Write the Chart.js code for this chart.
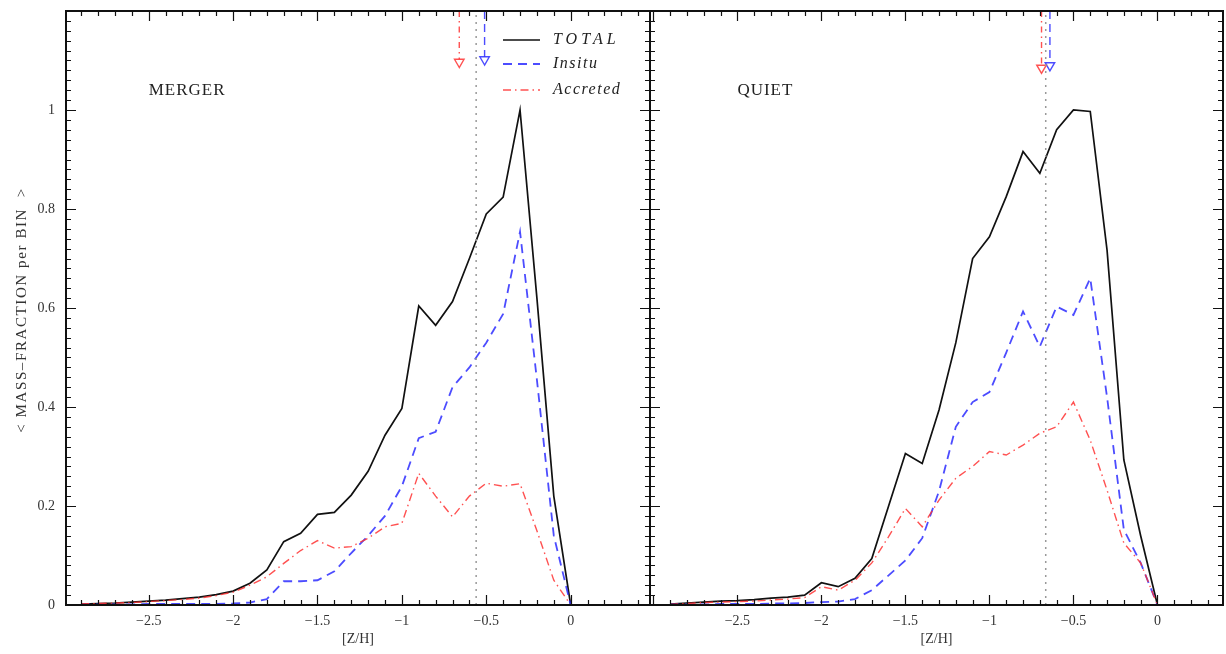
<!DOCTYPE html>
<html lang="en">
<head>
<meta charset="UTF-8">
<title>Mass fraction per bin vs [Z/H]</title>
<script src="https://cdn.jsdelivr.net/npm/chart.js"></script>
<style>
  body { margin: 0; background: #fff; }
  #wrap { position: relative; width: 1226px; height: 654px; overflow: hidden; }
  #wrap canvas { position: absolute; top: 0; }
</style>
</head>
<body>
<div id="wrap">
  <canvas id="merger" width="652" height="654" style="left:0;width:652px;height:654px"></canvas>
  <canvas id="quiet" width="586" height="654" style="left:640px;width:586px;height:654px"></canvas>
</div>

<script>
// [Z/H] bin centres
const zh = [-2.9, -2.8, -2.7, -2.6, -2.5, -2.4, -2.3, -2.2, -2.1, -2.0,
            -1.9, -1.8, -1.7, -1.6, -1.5, -1.4, -1.3, -1.2, -1.1, -1.0,
            -0.9, -0.8, -0.7, -0.6, -0.5, -0.4, -0.3, -0.2, -0.1, 0.0,
            0.1, 0.2, 0.3, 0.4];

// MERGER run
const mergerTotal = [0.002, 0.003, 0.004, 0.006, 0.008, 0.010, 0.013, 0.016, 0.021, 0.028,
                     0.044, 0.071, 0.128, 0.145, 0.183, 0.187, 0.222, 0.270, 0.343, 0.397,
                     0.604, 0.565, 0.613, 0.700, 0.790, 0.824, 1.000, 0.620, 0.220, 0,
                     0, 0, 0, 0];
const mergerInsitu = [0.001, 0.001, 0.001, 0.001, 0.002, 0.002, 0.002, 0.002, 0.002, 0.003,
                      0.005, 0.012, 0.048, 0.048, 0.050, 0.068, 0.105, 0.140, 0.180, 0.240,
                      0.337, 0.350, 0.440, 0.480, 0.530, 0.588, 0.754, 0.455, 0.140, 0,
                      0, 0, 0, 0];
const mergerAccreted = [0.002, 0.003, 0.004, 0.005, 0.007, 0.009, 0.011, 0.014, 0.019, 0.026,
                        0.040, 0.057, 0.084, 0.110, 0.130, 0.115, 0.118, 0.135, 0.158, 0.165,
                        0.266, 0.220, 0.178, 0.220, 0.246, 0.240, 0.245, 0.150, 0.050, 0,
                        0, 0, 0, 0];

// QUIET run
const quietTotal = [0.002, 0.004, 0.006, 0.008, 0.009, 0.011, 0.014, 0.016, 0.020, 0.045,
                    0.037, 0.054, 0.094, 0.200, 0.306, 0.286, 0.394, 0.530, 0.700, 0.744,
                    0.825, 0.916, 0.872, 0.960, 1.000, 0.997, 0.717, 0.293, 0.140, 0,
                    0, 0, 0, 0];
const quietInsitu = [0.001, 0.001, 0.001, 0.002, 0.002, 0.002, 0.003, 0.003, 0.004, 0.006,
                     0.007, 0.012, 0.030, 0.060, 0.090, 0.135, 0.230, 0.360, 0.410, 0.430,
                     0.510, 0.593, 0.522, 0.603, 0.586, 0.660, 0.420, 0.152, 0.085, 0,
                     0, 0, 0, 0];
const quietAccreted = [0.001, 0.003, 0.005, 0.006, 0.007, 0.008, 0.010, 0.012, 0.015, 0.037,
                       0.030, 0.050, 0.085, 0.138, 0.195, 0.158, 0.212, 0.256, 0.280, 0.310,
                       0.303, 0.323, 0.347, 0.360, 0.410, 0.333, 0.232, 0.125, 0.085, 0,
                       0, 0, 0, 0];

// median [Z/H] of total / insitu / accreted
const mergerMedians = [-0.56, -0.51, -0.66];
const quietMedians = [-0.665, -0.64, -0.69];

const xTicks = [-2.5, -2, -1.5, -1, -0.5, 0];
const yTicks = [0, 0.2, 0.4, 0.6, 0.8, 1];

const SERIF = "'Liberation Serif', 'DejaVu Serif', serif";
const BLACK = '#111';
const BLUE = 'rgba(45,45,255,0.85)';
const RED = 'rgba(255,50,50,0.85)';
const DASH_BLUE = [9, 6];
const DASH_RED = [8, 4, 1.5, 4];

const pts = (ys) => ys.map((y, i) => ({ x: zh[i], y: y }));
const minus = (v) => (v < 0 ? '\u2212' : '') + Math.abs(v);

function arrow(x, yEnd, color, dash) {
  return {
    data: [{ x: x, y: 1.2 }, { x: x, y: yEnd }],
    borderColor: color, borderWidth: 1.4, borderDash: dash,
    pointRadius: [0, 5.5], pointStyle: 'triangle', rotation: 180,
    pointBackgroundColor: '#fff', pointBorderColor: color, pointBorderWidth: 1.4
  };
}

function datasets(total, insitu, accreted, med, headY) {
  return [
    { data: [{ x: med[0], y: 0 }, { x: med[0], y: 1.2 }], borderColor: '#999',
      borderWidth: 1.5, borderDash: [2, 5], pointRadius: 0 },
    { data: pts(accreted), borderColor: RED, borderWidth: 1.4, borderDash: DASH_RED, pointRadius: 0 },
    { data: pts(insitu), borderColor: BLUE, borderWidth: 1.8, borderDash: DASH_BLUE, pointRadius: 0 },
    { data: pts(total), borderColor: BLACK, borderWidth: 1.7, pointRadius: 0 },
    arrow(med[2], headY, RED, [6, 4, 1.5, 4]),
    arrow(med[1], headY + 0.005, BLUE, [8, 5])
  ];
}

// box with inward major/minor ticks, panel name, y title and optional key
const frame = {
  id: 'frame',
  afterDatasetsDraw(chart, args, opts) {
    const { ctx, chartArea: a, scales: { x, y } } = chart;
    ctx.save();
    ctx.strokeStyle = BLACK;
    ctx.lineWidth = 2;
    ctx.strokeRect(a.left, a.top, a.right - a.left, a.bottom - a.top);
    ctx.lineWidth = 1.2;
    ctx.beginPath();
    for (let i = Math.ceil(x.min * 10); i <= Math.floor(x.max * 10); i++) {
      const px = Math.round(x.getPixelForValue(i / 10)) + 0.5;
      const len = i % 5 === 0 ? 10 : 5;
      ctx.moveTo(px, a.bottom); ctx.lineTo(px, a.bottom - len);
      ctx.moveTo(px, a.top); ctx.lineTo(px, a.top + len);
    }
    for (let j = 1; j < 60; j++) {
      const py = Math.round(y.getPixelForValue(j / 50)) + 0.5;
      const len = j % 10 === 0 ? 10 : 5;
      ctx.moveTo(a.left, py); ctx.lineTo(a.left + len, py);
      ctx.moveTo(a.right, py); ctx.lineTo(a.right - len, py);
    }
    ctx.stroke();

    ctx.fillStyle = '#222';
    ctx.letterSpacing = '1px';
    ctx.font = '17px ' + SERIF;
    ctx.textBaseline = 'middle';
    ctx.fillText(opts.name, x.getPixelForValue(-2.5), y.getPixelForValue(1.04));

    if (opts.yTitle) {
      ctx.save();
      ctx.fillStyle = '#333';
      ctx.font = '15px ' + SERIF;
      ctx.letterSpacing = '1.6px';
      ctx.textAlign = 'center';
      ctx.translate(22, y.getPixelForValue(0.6) + 2);
      ctx.rotate(-Math.PI / 2);
      ctx.fillText(opts.yTitle, 0, 0);
      ctx.restore();
    }

    if (opts.key) {
      const rows = [['TOTAL', BLACK, [], 1.7, '4px'], ['Insitu', BLUE, DASH_BLUE, 1.8, '1.5px'],
                    ['Accreted', RED, DASH_RED, 1.4, '1.5px']];
      const x0 = 503, x1 = 540, tx = 553;
      const ys = [40, 64, 90];
      ctx.font = 'italic 16px ' + SERIF;
      rows.forEach((r, k) => {
        ctx.beginPath();
        ctx.strokeStyle = r[1];
        ctx.lineWidth = r[3];
        ctx.setLineDash(r[2]);
        ctx.moveTo(x0, ys[k]); ctx.lineTo(x1, ys[k]);
        ctx.stroke();
        ctx.setLineDash([]);
        ctx.letterSpacing = r[4];
        ctx.fillText(r[0], tx, ys[k]);
      });
    }
    ctx.restore();
  }
};

const noPad = (s) => { s.paddingTop = 0; s.paddingBottom = 0; s.paddingLeft = 0; s.paddingRight = 0; };

function makeChart(id, sets, xMin, xMax, showY, name, key, padRight) {
  return new Chart(document.getElementById(id), {
    type: 'line',
    data: { datasets: sets },
    plugins: [frame],
    options: {
      responsive: false,
      animation: false,
      events: [],
      layout: { autoPadding: false, padding: { top: 11, right: padRight, bottom: 0, left: 0 } },
      plugins: {
        legend: { display: false }, tooltip: { enabled: false },
        frame: { name: name, key: key, yTitle: showY ? '< MASS\u2013FRACTION per BIN  >' : '' }
      },
      scales: {
        x: {
          type: 'linear', min: xMin, max: xMax,
          grid: { display: false, drawTicks: false },
          border: { display: false },
          afterBuildTicks: (s) => { s.ticks = xTicks.map(v => ({ value: v })); },
          ticks: { padding: 8, color: '#333', font: { family: SERIF, size: 14 }, maxRotation: 0,
                   callback: (v) => minus(v) },
          title: { display: true, text: '[Z/H]', color: '#333', font: { family: SERIF, size: 14 },
                   padding: { top: 0, bottom: 6 } },
          afterFit: (s) => { s.height = 49; noPad(s); }
        },
        y: {
          type: 'linear', min: 0, max: 1.2,
          grid: { display: false, drawTicks: false },
          border: { display: false },
          afterBuildTicks: (s) => { s.ticks = yTicks.map(v => ({ value: v })); },
          ticks: { display: showY, padding: 11, color: '#333', font: { family: SERIF, size: 14 },
                   callback: (v) => String(v) },
          afterFit: (s) => { s.width = showY ? 66 : 10; noPad(s); }
        }
      }
    }
  });
}

makeChart('merger', datasets(mergerTotal, mergerInsitu, mergerAccreted, mergerMedians, 1.097),
          -2.99, 0.47, true, 'MERGER', true, 2);
makeChart('quiet', datasets(quietTotal, quietInsitu, quietAccreted, quietMedians, 1.085),
          -3.02, 0.39, false, 'QUIET', false, 3);
</script>
</body>
</html>
